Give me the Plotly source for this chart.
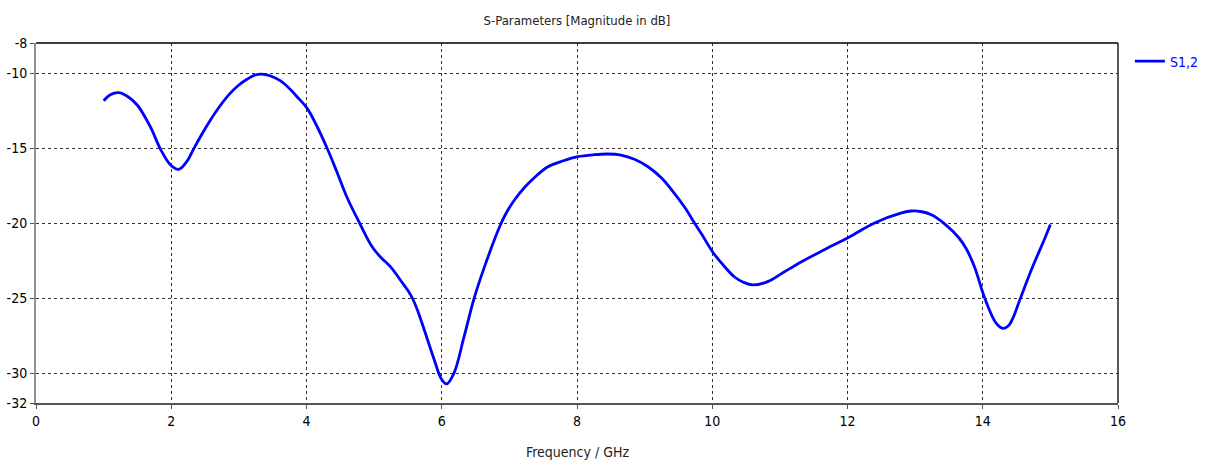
import plotly.graph_objects as go

freq = [1.0, 1.1, 1.22, 1.35, 1.5, 1.69, 1.84, 1.99, 2.11, 2.23, 2.33, 2.45, 2.58, 2.72, 2.87,
        3.0, 3.12, 3.23, 3.34, 3.47, 3.61, 3.74, 3.86, 4.01, 4.16, 4.31, 4.45, 4.6, 4.79, 4.97,
        5.1, 5.24, 5.44, 5.5, 5.57, 5.64, 5.71, 5.89, 5.99, 6.07, 6.18, 6.33, 6.48, 6.65, 6.87,
        6.97, 7.07, 7.22, 7.4, 7.57, 7.8, 8.01, 8.25, 8.45, 8.65, 8.85, 9.05, 9.25, 9.44, 9.6,
        9.74, 9.84, 10.02, 10.18, 10.33, 10.46, 10.6, 10.82, 11.05, 11.32, 11.65, 12.02, 12.4,
        12.8, 12.95, 13.1, 13.24, 13.44, 13.64, 13.76, 13.88, 14.03, 14.2, 14.3, 14.38, 14.45,
        14.55, 14.73, 14.92, 15.0]
s12_db = [-11.85, -11.45, -11.31, -11.55, -12.15, -13.58, -15.07, -16.13, -16.42, -15.9, -15.07,
          -14.1, -13.13, -12.2, -11.36, -10.8, -10.42, -10.15, -10.07, -10.2, -10.51, -11.0,
          -11.58, -12.36, -13.6, -15.07, -16.6, -18.3, -20.05, -21.58, -22.3, -22.91, -24.13,
          -24.5, -25.05, -25.8, -26.7, -29.13, -30.36, -30.73, -30.02, -27.58, -25.0, -22.69,
          -20.1, -19.2, -18.5, -17.65, -16.85, -16.25, -15.85, -15.58, -15.45, -15.4, -15.47,
          -15.75, -16.25, -17.0, -18.02, -19.0, -20.02, -20.72, -22.02, -22.9, -23.6, -23.95,
          -24.13, -23.91, -23.3, -22.58, -21.8, -20.95, -20.0, -19.33, -19.2, -19.25, -19.45,
          -20.07, -20.95, -21.75, -22.95, -25.02, -26.69, -27.02, -26.85, -26.3, -25.1, -23.0,
          -21.0, -20.1]

x_ticks = [0, 2, 4, 6, 8, 10, 12, 14, 16]
y_ticks = [-8, -10, -15, -20, -25, -30, -32]

FONT = "DejaVu Sans Condensed, DejaVu Sans, sans-serif"

fig = go.Figure()
fig.add_trace(go.Scatter(x=freq, y=s12_db, mode="lines", name="S1,2",
                         line=dict(color="#0000FF", width=2.8, shape="spline", smoothing=1.0)))

fig.update_layout(
    width=1211, height=465,
    margin=dict(l=36, r=93, t=43, b=62, autoexpand=False),
    paper_bgcolor="white", plot_bgcolor="white",
    title=dict(text="S-Parameters [Magnitude in dB]", x=577 / 1211, xanchor="center",
               y=1 - 20 / 465, yanchor="middle",
               font=dict(family=FONT, size=13, color="#222222")),
    font=dict(family=FONT, size=14, color="black"),
    showlegend=True,
    legend=dict(x=1.011, y=0.993, xanchor="left", yanchor="top",
                font=dict(family=FONT, size=14, color="#0000FF"),
                bgcolor="rgba(0,0,0,0)", itemwidth=30),
)

fig.update_xaxes(range=[0, 16], tickvals=x_ticks, ticktext=[str(v) for v in x_ticks],
                 showgrid=True, gridcolor="#333333", griddash="dot", gridwidth=1,
                 zeroline=False, showline=True, linecolor="#555555", linewidth=1.5,
                 ticks="outside", ticklen=4, tickcolor="#555555", automargin=False)
fig.update_yaxes(range=[-32, -8], tickvals=y_ticks, ticktext=[str(v) for v in y_ticks],
                 showgrid=True, gridcolor="#333333", griddash="dot", gridwidth=1,
                 zeroline=False, showline=True, linecolor="#909090", linewidth=2,
                 ticks="outside", ticklen=4, tickcolor="#555555", automargin=False)

fig.add_annotation(text="Frequency / GHz", xref="paper", yref="paper", x=0.5, y=-49 / 360,
                   xanchor="center", yanchor="middle", showarrow=False,
                   font=dict(family=FONT, size=14, color="#222222"))

# top and right frame lines
fig.add_shape(type="line", xref="paper", yref="paper", x0=0, x1=1, y0=1, y1=1,
              line=dict(color="black", width=1.3))
fig.add_shape(type="line", xref="paper", yref="paper", x0=1, x1=1, y0=0, y1=1,
              line=dict(color="black", width=1.3))

fig.write_html("out.html")
